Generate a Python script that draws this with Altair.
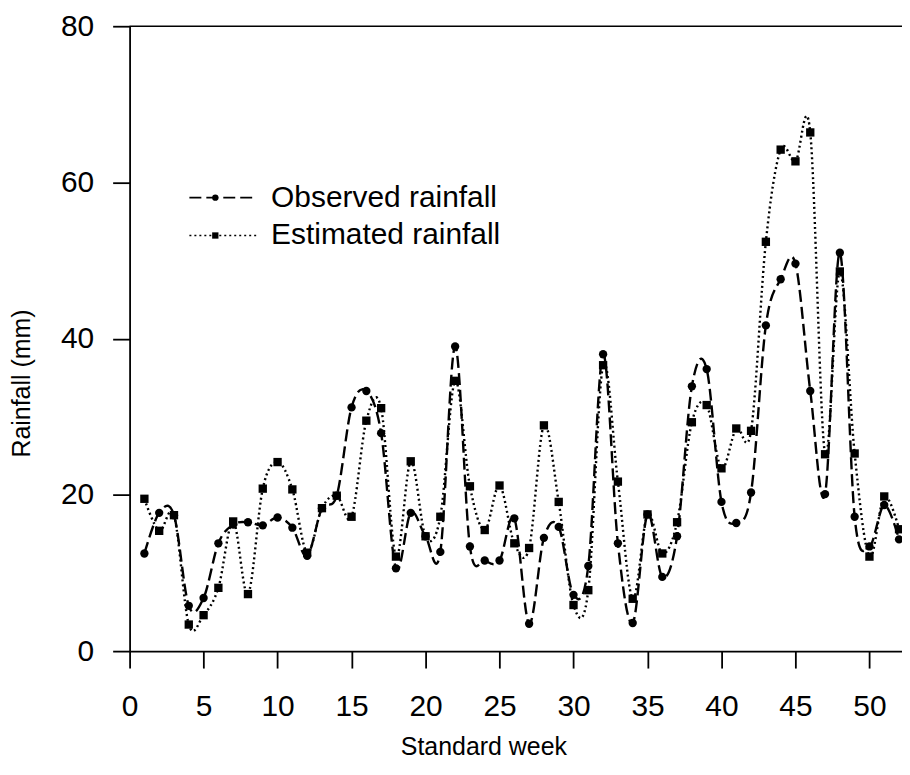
import altair as alt
import pandas as pd

weeks = list(range(1, 53))
observed = [12.5, 17.7, 17.4, 5.8, 6.8, 13.8, 16.2, 16.5, 16.1, 17.1,
            15.8, 12.2, 18.3, 19.9, 31.2, 33.3, 27.9, 10.6, 17.7, 14.7,
            12.7, 39.0, 13.4, 11.6, 11.6, 17.0, 3.5, 14.5, 15.9, 7.2,
            10.9, 38.0, 13.8, 3.6, 17.5, 9.5, 14.7, 33.9, 36.1, 19.1,
            16.4, 20.3, 41.7, 47.6, 49.6, 33.3, 20.1, 51.0, 17.2, 13.4,
            18.7, 14.3]
estimated = [19.5, 15.4, 17.4, 3.4, 4.6, 8.1, 16.6, 7.3, 20.8, 24.2,
             20.7, 12.6, 18.3, 19.9, 17.2, 29.5, 31.1, 12.1, 24.3, 14.7,
             17.2, 34.6, 21.1, 15.5, 21.2, 13.8, 13.2, 28.9, 19.1, 5.9,
             7.8, 36.6, 21.7, 6.7, 17.5, 12.5, 16.5, 29.3, 31.5, 23.4,
             28.5, 28.2, 52.4, 64.2, 62.7, 66.4, 25.2, 48.6, 25.3, 12.1,
             19.8, 15.6]
series_names = ["Observed rainfall", "Estimated rainfall"]
x_ticks = [0, 5, 10, 15, 20, 25, 30, 35, 40, 45, 50]
y_ticks = [0, 20, 40, 60, 80]

df = pd.DataFrame({
    "week": weeks * 2,
    "rain": observed + estimated,
    "series": [series_names[0]] * len(weeks) + [series_names[1]] * len(weeks),
})

W, H = 775, 627
FONT = "Liberation Sans"
DASHES = [[12, 5], [2, 3]]

x_enc = alt.X("week:Q",
              scale=alt.Scale(domain=[0, 52.2], nice=False, zero=False),
              axis=alt.Axis(values=x_ticks, title="Standard week", format="d",
                            labelFlush=False, labelPadding=24,
                            titleX=355, titleY=96, titleBaseline="middle",
                            titleAlign="center"))
y_enc = alt.Y("rain:Q",
              scale=alt.Scale(domain=[0, 80], nice=False),
              axis=alt.Axis(values=y_ticks, title="Rainfall (mm)", format="d",
                            labelFlush=False, labelPadding=19,
                            titleX=-108, titleY=358, titleBaseline="middle",
                            titleAlign="center", titleAngle=-90))

dash_scale = alt.Scale(domain=series_names, range=DASHES)
shape_scale = alt.Scale(domain=series_names, range=["circle", "square"])

lines = alt.Chart(df).mark_line(
    interpolate="cardinal", tension=0, color="black", strokeWidth=2.4,
    strokeCap="butt"
).encode(
    x=x_enc, y=y_enc,
    strokeDash=alt.StrokeDash("series:N", scale=dash_scale, legend=None),
    detail="series:N",
)

points = alt.Chart(df).mark_point(filled=True, color="black", opacity=1, size=70).encode(
    x="week:Q", y="rain:Q",
    shape=alt.Shape("series:N", scale=shape_scale, legend=None),
)

one = alt.Data(values=[{"k": 1}])

top_rule = alt.Chart(one).mark_rule(color="black", strokeWidth=1.5).encode(
    x=alt.value(0), x2=alt.value(W), y=alt.value(0))

leg = []
for i, (name, dash, shp) in enumerate(zip(series_names, DASHES, ["circle", "square"])):
    yy = 172 + i * 38
    leg.append(alt.Chart(one).mark_rule(color="black", strokeWidth=1.6, strokeDash=dash).encode(
        x=alt.value(60), x2=alt.value(127), y=alt.value(yy)))
    leg.append(alt.Chart(one).mark_point(shape=shp, filled=True, color="black", opacity=1, size=40).encode(
        x=alt.value(86), y=alt.value(yy)))
    leg.append(alt.Chart(one).mark_text(align="left", baseline="middle", fontSize=30,
                                         font=FONT, color="black").encode(
        x=alt.value(142), y=alt.value(yy), text=alt.value(name)))

chart = alt.layer(lines, points, top_rule, *leg).properties(
    width=W, height=H,
    background="white",
    autosize=alt.AutoSizeParams(type="none"),
    padding={"left": 122, "top": 17, "right": 0, "bottom": 110},
).configure_view(stroke=None).configure_axis(
    grid=False,
    domainColor="black", domainWidth=1.8,
    tickColor="black", tickWidth=1.8, tickSize=17,
    labelFont=FONT, labelFontSize=30, labelColor="black",
    titleFont=FONT, titleFontSize=25, titleColor="black", titleFontWeight="normal",
)

chart.save("out.html", embed_options={"renderer": "svg", "actions": False})
